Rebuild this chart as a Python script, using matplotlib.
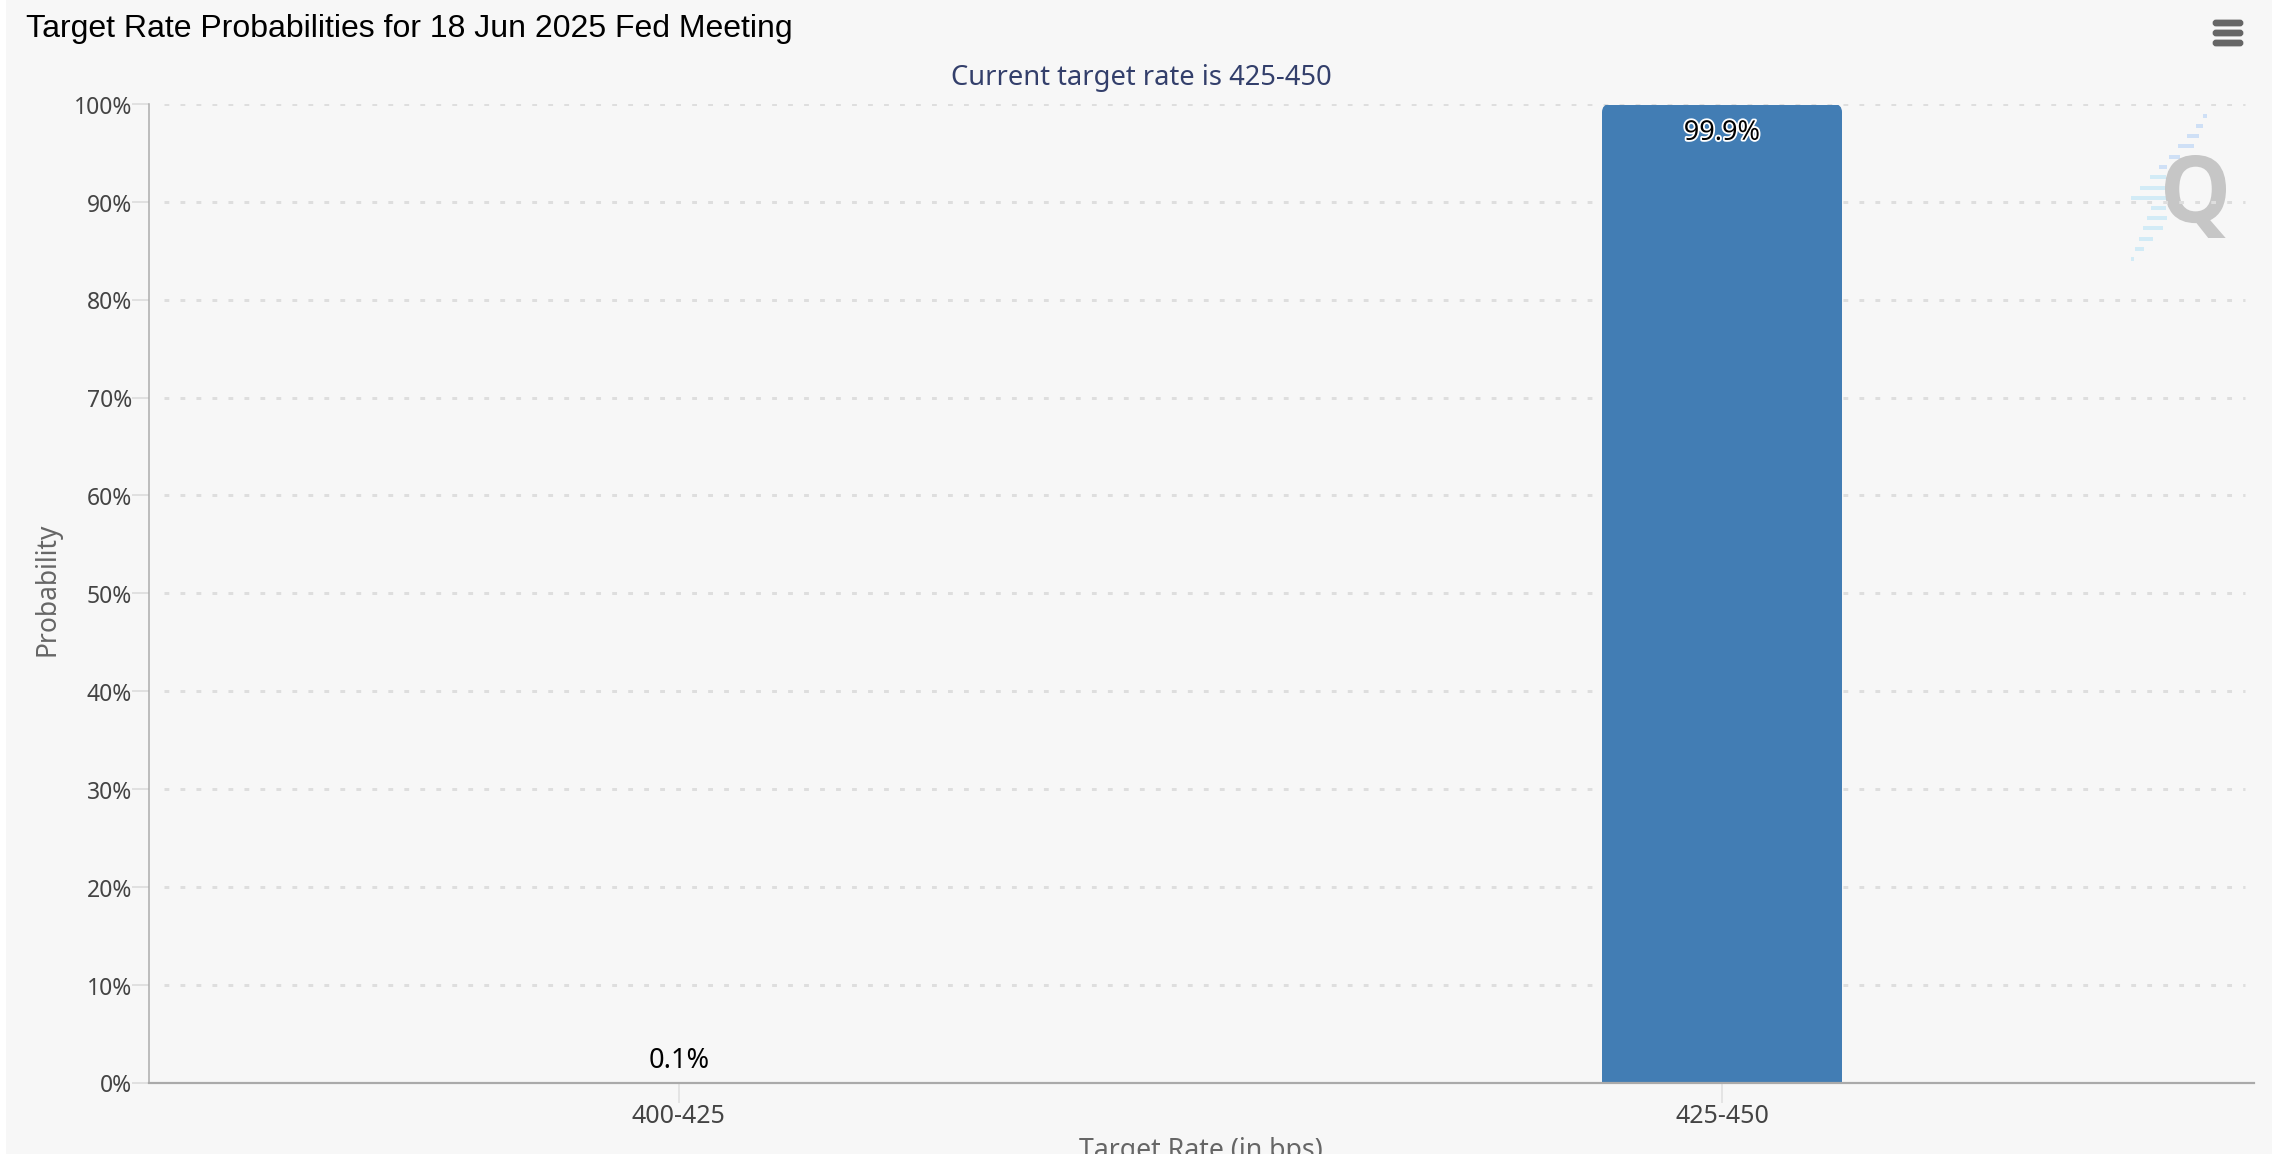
import matplotlib
matplotlib.use("Agg")
import matplotlib.pyplot as plt
import matplotlib.patheffects as pe
from matplotlib.patches import FancyBboxPatch, Rectangle, PathPatch
from matplotlib.textpath import TextPath
from matplotlib.font_manager import FontProperties
from matplotlib.transforms import Affine2D, ScaledTranslation

categories = ["400-425", "425-450"]
probabilities = [0.1, 99.9]
labels = ["0.1%", "99.9%"]
y_ticks = [0, 10, 20, 30, 40, 50, 60, 70, 80, 90, 100]
title_text = "Target Rate Probabilities for 18 Jun 2025 Fed Meeting"
subtitle_text = "Current target rate is 425-450"
x_title = "Target Rate (in bps)"
y_title = "Probability"

W, H = 2286, 1154
BG = "#f7f7f7"
BAR = "#427db4"
UI = "Noto Sans"

fig = plt.figure(figsize=(W / 100, H / 100), dpi=100, facecolor="white")

# pixel-space overlay for page decoration
deco = fig.add_axes([0, 0, 1, 1], zorder=0)
deco.set_xlim(0, W)
deco.set_ylim(H, 0)
deco.axis("off")
deco.add_patch(Rectangle((6, 0), 2266, H, fc=BG, ec="none"))

ax = fig.add_axes([149 / W, (H - 1082.7) / H, 2105 / W, (1082.7 - 104) / H], zorder=1)
ax.patch.set_alpha(0)
ax.set_xlim(-0.508, 1.51)
ax.set_ylim(0, 100)

for v in y_ticks:
    ax.axhline(v, xmin=15 / 2105, xmax=2096 / 2105, color="#dedede", lw=3 * 0.72,
               linestyle=(0, (1.6, 3.73)), dash_capstyle="butt", zorder=1)

bars = ax.bar(range(len(categories)), probabilities, width=240 / 1043, color=BAR, zorder=2)
for b in bars:
    x, w, h = b.get_x(), b.get_width(), b.get_height()
    if h > 1:
        # rounded top corners only: the clip shape runs below the baseline
        clip = FancyBboxPatch((x, -5), w, 105.0, transform=ax.transData,
                              boxstyle="round,pad=0,rounding_size=0.008",
                              mutation_aspect=100 / 978.7 * 1043 / 1, fc="none", ec="none")
        ax.add_patch(clip)
        b.set_clip_path(clip)

ax.annotate(labels[0], (0, probabilities[0]), xytext=(0, 15), textcoords="offset points",
            ha="center", va="center", fontsize=19.5, family=UI, color="black", zorder=5)
ax.annotate(labels[1], (1, probabilities[1]), xytext=(0, -20), textcoords="offset points",
            ha="center", va="center", fontsize=19.5, family=UI, color="black", zorder=5,
            path_effects=[pe.withStroke(linewidth=2.6, foreground="white")])

ax.set_xticks(range(len(categories)), categories)
ax.set_yticks(y_ticks, [f"{v}%" for v in y_ticks])
ax.tick_params(axis="x", length=14.4, width=1.5 * 0.72, color="#dedede", labelcolor="#444444",
               labelsize=18, pad=1)
ax.tick_params(axis="y", length=12.2, width=2 * 0.72, color="#e0e0e0", labelcolor="#444444",
               labelsize=16.5, pad=0)
for t in ax.get_xticklabels() + ax.get_yticklabels():
    t.set_family(UI)
for t in ax.get_yticklabels():
    t.set_transform(t.get_transform() + ScaledTranslation(0, -0.5 / 72, fig.dpi_scale_trans))

for s in ("top", "right"):
    ax.spines[s].set_visible(False)
ax.spines["left"].set_color("#aaaaaa")
ax.spines["left"].set_linewidth(1.5 * 0.72)
ax.spines["bottom"].set_color("#aaaaaa")
ax.spines["bottom"].set_linewidth(2.2 * 0.72)
ax.spines["bottom"].set_zorder(4)
ax.spines["left"].set_zorder(4)

deco.text(26.5, 29, title_text, fontsize=23, family="Liberation Sans", color="black",
          ha="left", va="center")
deco.text(1141, 78, subtitle_text, fontsize=19.7, family=UI, color="#333f6b", ha="center", va="center")
deco.text(1201, 1151, x_title, fontsize=19.2, family=UI, color="#666666", ha="center", va="center")
deco.text(47, 589, y_title, fontsize=19, family=UI, color="#666666", ha="center", va="center",
          rotation=90)

# menu icon
for y0 in (20, 30, 40):
    deco.add_patch(FancyBboxPatch((2211 + 3, y0 + 1), 28, 4, boxstyle="round,pad=0,rounding_size=2",
                                  fc="#666666", ec="#666666", lw=2))

# watermark
stripe_rows = [116, 126, 136, 146, 157, 167, 177, 188, 198, 208, 218, 228, 239, 249, 259]
stripe_x0 = [2203, 2196, 2187, 2178, 2169, 2159, 2150, 2140, 2131, 2151, 2147, 2143, 2139, 2135, 2131]
stripe_x1 = [2207, 2203, 2199, 2194, 2180, 2167, 2166, 2166, 2166, 2166, 2167, 2163, 2153, 2144, 2134]
for i, (r, a, b_) in enumerate(zip(stripe_rows, stripe_x0, stripe_x1)):
    deco.add_patch(Rectangle((a, r - 2), b_ - a, 4, fc="#cfe0f6" if i < 6 else "#d2ebf6", ec="none"))

q = TextPath((0, 0), "Q", size=100, prop=FontProperties(family="Open Sans", weight="bold"))
qb = q.get_extents()
qx0, qy0, qx1, qy1 = 2165, 155, 2226, 238
q_tf = (Affine2D().translate(-qb.x0, -qb.y0)
        .scale((qx1 - qx0) / qb.width, -(qy1 - qy0) / qb.height)
        .translate(qx0, qy1))
deco.add_patch(PathPatch(q_tf.transform_path(q), fc="#c6c6c6", ec="none", zorder=3))

fig.savefig("out.png", dpi=100, facecolor="white")
